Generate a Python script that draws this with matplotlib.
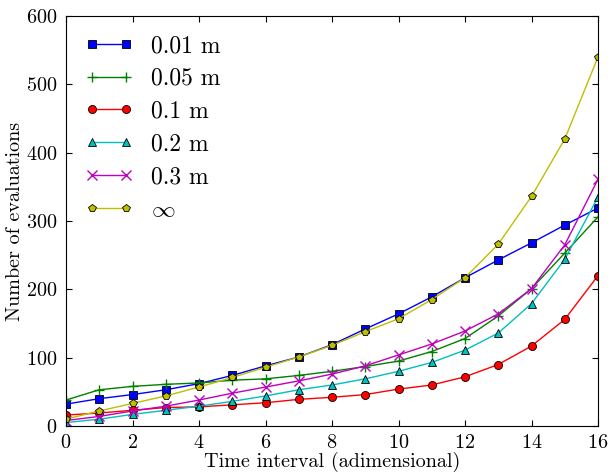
import matplotlib
matplotlib.use("Agg")
import matplotlib.pyplot as plt

x = list(range(17))
s001 = [32, 40, 46, 53, 62, 74, 88, 101, 119, 142, 164, 189, 217, 243, 268, 294, 319]
s005 = [38, 53, 58, 61, 63, 67, 69, 74, 80, 87, 95, 109, 128, 161, 201, 253, 306]
s01 = [16, 19, 23, 27, 28, 31, 34, 39, 42, 46, 54, 60, 72, 90, 117, 156, 220]
s02 = [5, 10, 17, 23, 29, 36, 44, 53, 60, 69, 80, 93, 111, 136, 179, 244, 335]
s03 = [8, 14, 22, 29, 38, 48, 57, 66, 76, 88, 104, 120, 139, 164, 201, 265, 361]
sinf = [10, 22, 33, 44, 57, 71, 86, 101, 118, 138, 157, 185, 217, 266, 336, 420, 540]

labels = ["0.01 m", "0.05 m", "0.1 m", "0.2 m", "0.3 m", r"$\infty$"]
series = [s001, s005, s01, s02, s03, sinf]
colors = [(0, 0, 1), (0, 0.5, 0), (1, 0, 0), (0, 0.75, 0.75), (0.75, 0, 0.75), (0.75, 0.75, 0)]
markers = ["s", "+", "o", "^", "x", "p"]

plt.rcParams["font.family"] = "cmr10"
plt.rcParams["mathtext.fontset"] = "cm"
plt.rcParams["axes.formatter.use_mathtext"] = True
plt.rcParams["xtick.direction"] = "in"
plt.rcParams["ytick.direction"] = "in"
plt.rcParams["xtick.top"] = True
plt.rcParams["ytick.right"] = True
plt.rcParams["xtick.major.size"] = 4
plt.rcParams["ytick.major.size"] = 4

fig = plt.figure(figsize=(6.11, 4.74), dpi=100)
ax = fig.add_axes([66/611, 1-426/474, (598-66)/611, (426-16)/474])

for ys, lab, c, m in zip(series, labels, colors, markers):
    if m in ("+", "x"):
        ax.plot(x, ys, color=c, marker=m, markersize=7, markeredgecolor=c, lw=1.0, label=lab)
    else:
        ax.plot(x, ys, color=c, marker=m, markersize=5.8, markerfacecolor=c,
                markeredgecolor="k", markeredgewidth=0.6, lw=1.0, label=lab)

ax.set_xlim(0, 16)
ax.set_ylim(0, 600)
ax.set_xticks(range(0, 17, 2))
ax.set_yticks(range(0, 601, 100))
ax.tick_params(labelsize=14.5, pad=6)
ax.set_xlabel("Time interval (adimensional)", fontsize=14.5, labelpad=0)
ax.set_ylabel("Number of evaluations", fontsize=14.5, labelpad=2)
ax.legend(loc="upper left", frameon=False, fontsize=17, handlelength=2.04,
          labelspacing=0.45, borderaxespad=0.4, handletextpad=0.76, numpoints=2)

fig.savefig("out.png", dpi=100, facecolor="white")
